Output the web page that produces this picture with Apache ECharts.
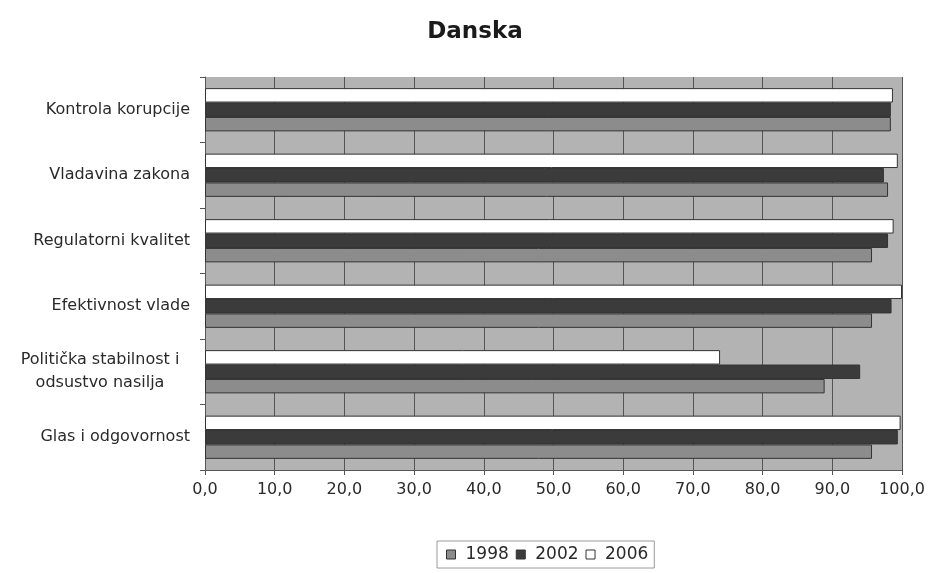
<!DOCTYPE html>
<html>
<head>
<meta charset="utf-8">
<script src="https://cdn.jsdelivr.net/npm/echarts@6/dist/echarts.min.js"></script>
<style>
html,body{margin:0;padding:0;background:#fff;}
#chart{width:933px;height:573px;}
</style>
</head>
<body>
<div id="chart"></div>
<script>
// Categories listed bottom-to-top (ECharts category axis starts at the bottom)
const categories = [
  "Glas i odgovornost",
  "Politička stabilnost i\nodsustvo nasilja",
  "Efektivnost vlade",
  "Regulatorni kvalitet",
  "Vladavina zakona",
  "Kontrola korupcije"
];
const seriesNames = ["1998", "2002", "2006"];
const values1998 = [95.7, 88.9, 95.7, 95.7, 98.0, 98.4];
const values2002 = [99.4, 94.0, 98.5, 98.0, 97.4, 98.4];
const values2006 = [99.8, 73.9, 100.0, 98.8, 99.4, 98.7];
const xTicks = [0, 10, 20, 30, 40, 50, 60, 70, 80, 90, 100];

const FONT = "DejaVu Sans";
const colors = {"1998": "#8c8c8c", "2002": "#3b3b3b", "2006": "#ffffff"};
const valuesByName = {"1998": values1998, "2002": values2002, "2006": values2006};
// ECharts places the first series at the top of each band; draw 2006 first so 1998 ends at the bottom
const drawOrder = seriesNames.slice().reverse();

const chart = echarts.init(document.getElementById('chart'), null, {renderer: 'canvas'});
chart.setOption({
  animation: false,
  backgroundColor: '#ffffff',
  title: {
    text: 'Danska',
    left: 470,
    textAlign: 'center',
    top: 16,
    textStyle: {fontFamily: FONT, fontSize: 23, fontWeight: 'bold', color: '#1a1a1a'}
  },
  legend: {
    data: seriesNames,
    left: 437,
    top: 541,
    orient: 'horizontal',
    itemWidth: 9,
    itemHeight: 9,
    itemGap: 7,
    padding: [5, 6, 5, 9],
    borderColor: '#9a9a9a',
    borderWidth: 1,
    icon: 'rect',
    textStyle: {fontFamily: FONT, fontSize: 17, color: '#2a2a2a', padding: [0, 0, 0, 5]},
    itemStyle: {borderColor: '#333', borderWidth: 1}
  },
  grid: {left: 205, right: 31, top: 77, bottom: 103, show: true, backgroundColor: '#b3b3b3', borderWidth: 0},
  xAxis: {
    type: 'value',
    min: xTicks[0],
    max: xTicks[xTicks.length - 1],
    interval: xTicks[1] - xTicks[0],
    axisLine: {show: true, lineStyle: {color: '#555', width: 1}},
    axisTick: {show: true, length: 5, lineStyle: {color: '#555'}},
    splitLine: {show: true, lineStyle: {color: '#555', width: 1}},
    axisLabel: {
      fontFamily: FONT, fontSize: 16, color: '#2a2a2a', margin: 12,
      formatter: v => v.toFixed(1).replace('.', ',')
    }
  },
  yAxis: {
    type: 'category',
    data: categories,
    axisLine: {show: true, lineStyle: {color: '#555', width: 1}},
    axisTick: {show: true, length: 5, lineStyle: {color: '#555'}},
    axisLabel: {
      fontFamily: FONT, fontSize: 16, color: '#2a2a2a', margin: 15, lineHeight: 23,
      formatter: function (v) {
        if (v.indexOf('\n') >= 0) {
          return v.split('\n').map(s => '{c|' + s + '}').join('\n');
        }
        return v;
      },
      rich: {c: {fontFamily: FONT, fontSize: 16, color: '#2a2a2a', width: 180, align: 'center', lineHeight: 23}}
    }
  },
  series: drawOrder.map(name => ({
    name: name,
    type: 'bar',
    data: valuesByName[name],
    barGap: '0%',
    barCategoryGap: '34%',
    itemStyle: {color: colors[name], borderColor: '#333', borderWidth: 1}
  }))
});
</script>
</body>
</html>
